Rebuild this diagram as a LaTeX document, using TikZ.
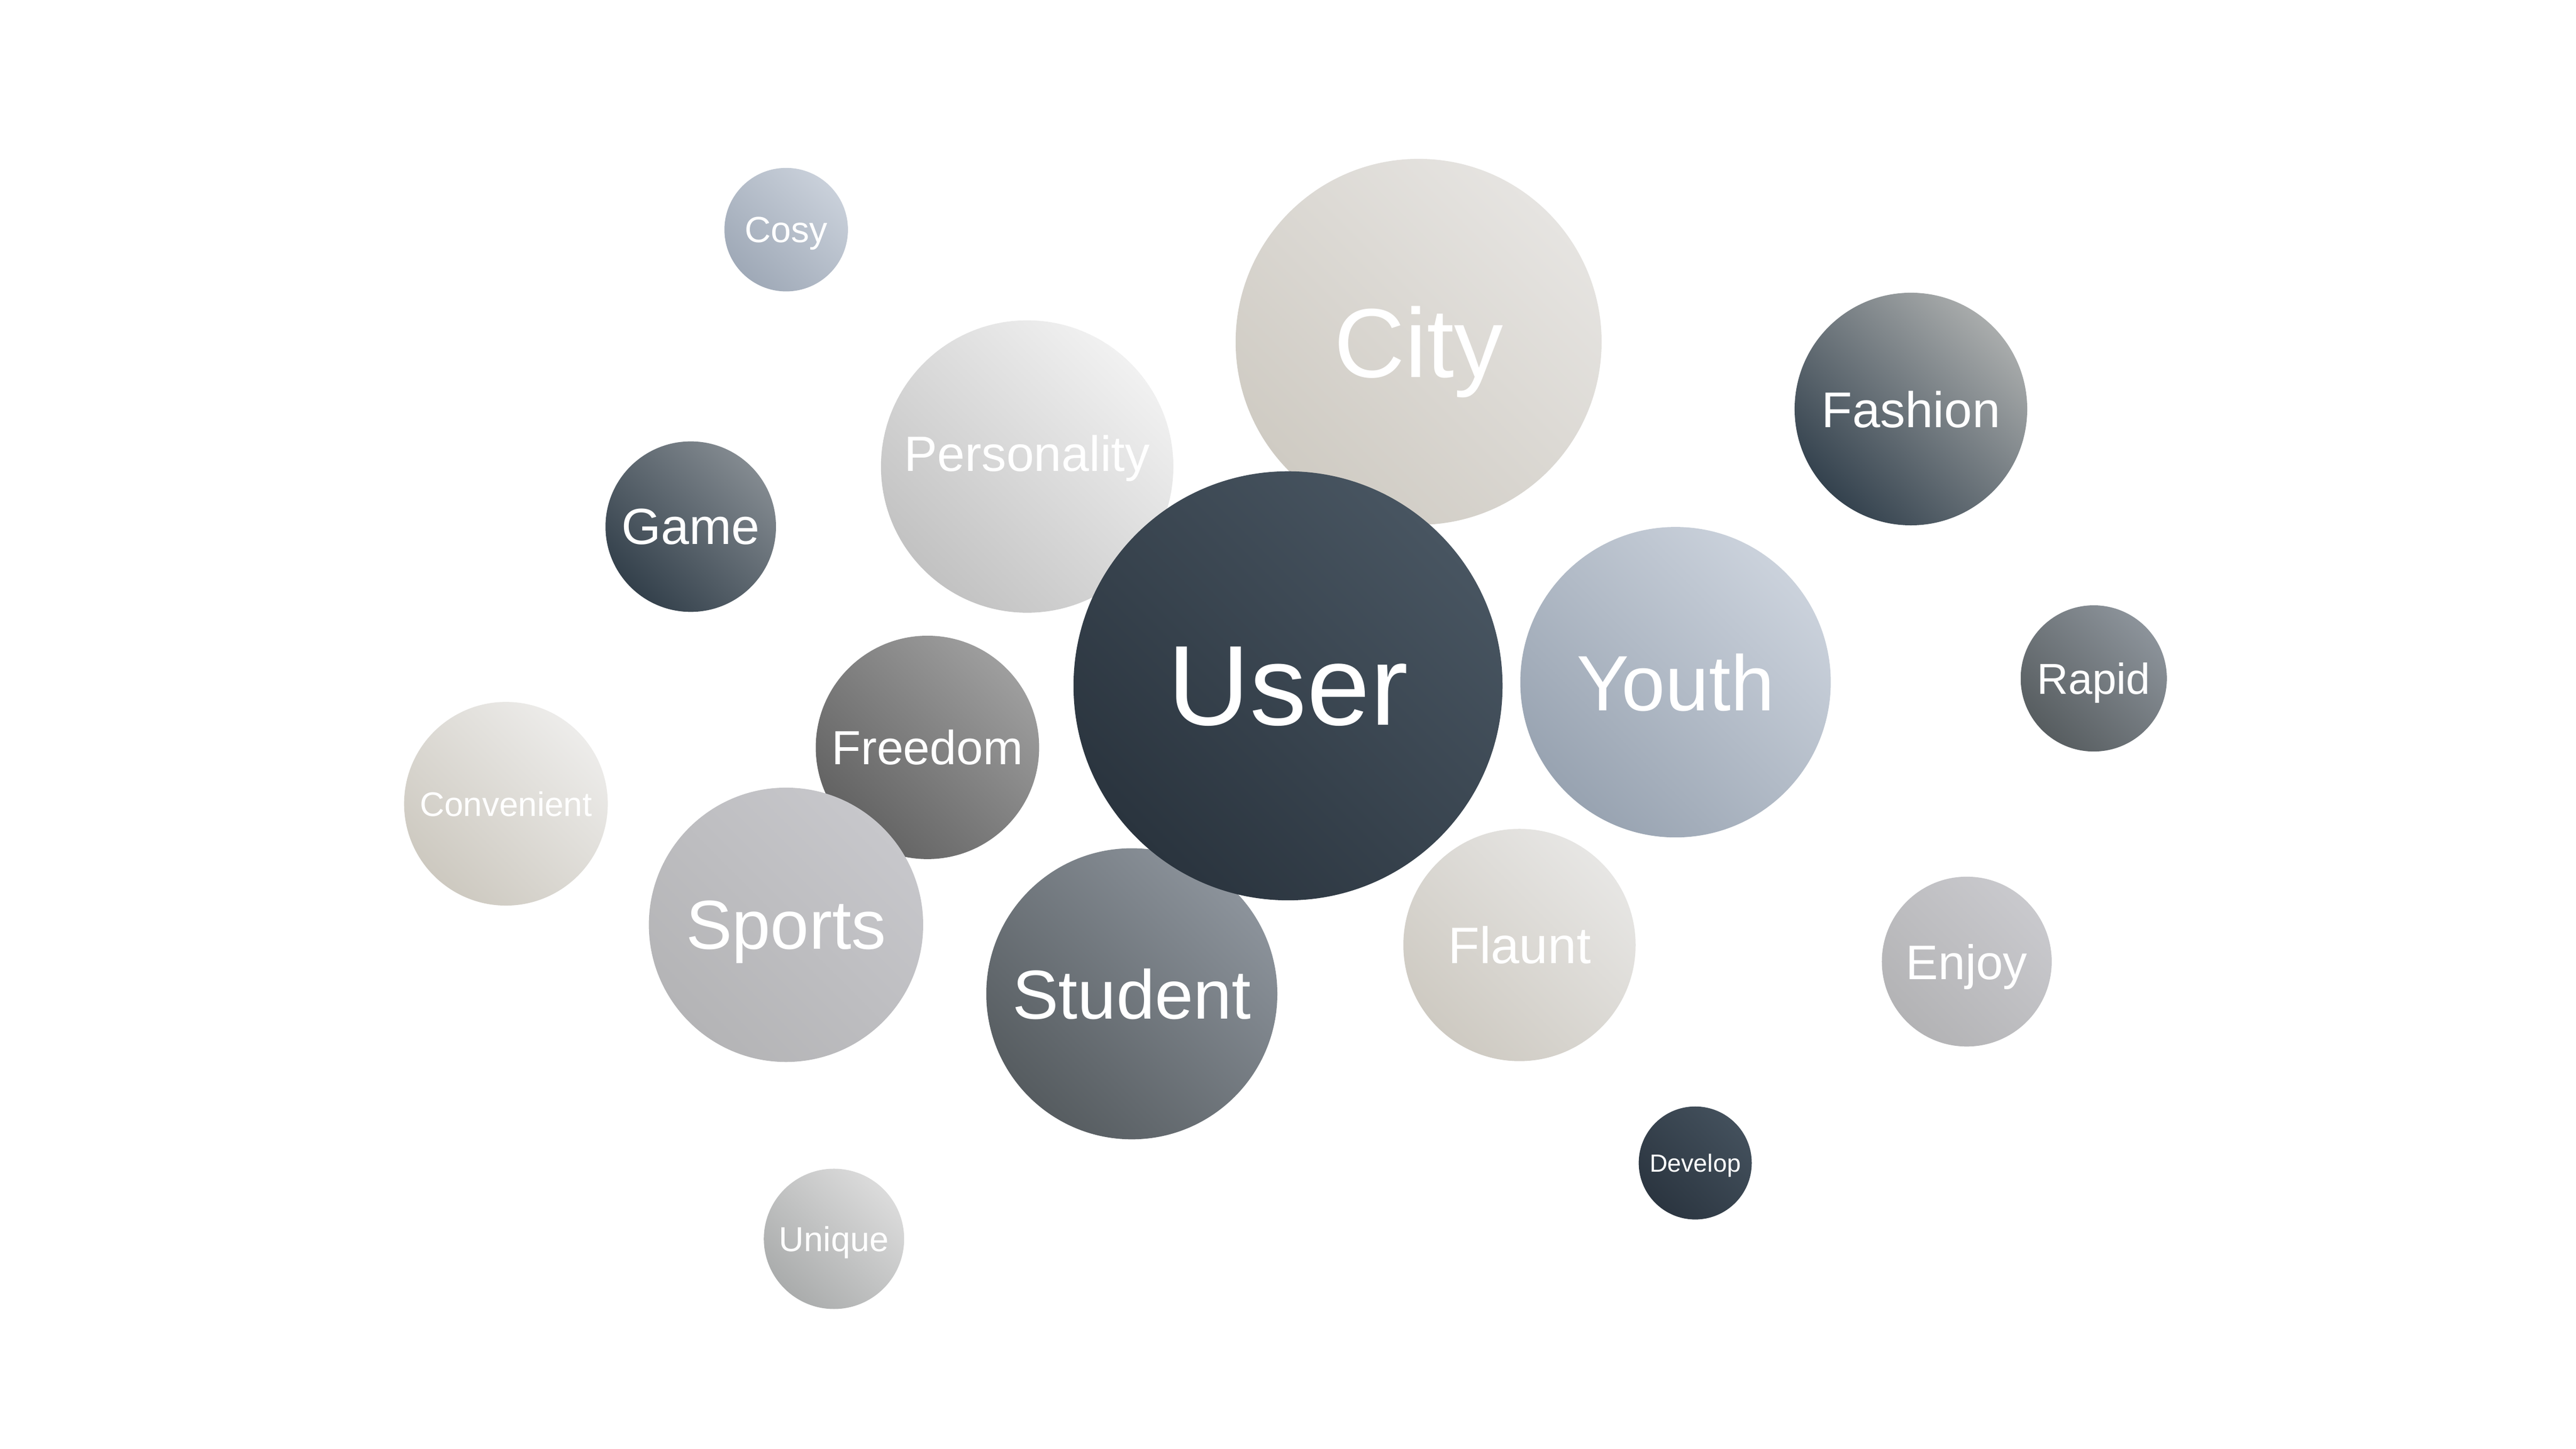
\documentclass[tikz,border=0pt]{standalone}
\usepackage{fontspec}
\setmainfont{Liberation Sans}
\usepackage{tikz}

\definecolor{cosyB}{HTML}{9FA9B7}
\definecolor{cosyT}{HTML}{C9D0DA}
\definecolor{cityB}{HTML}{CFCBC3}
\definecolor{cityT}{HTML}{E6E4E1}
\definecolor{persB}{HTML}{C2C2C2}
\definecolor{persT}{HTML}{F1F1F1}
\definecolor{fashB}{HTML}{34424E}
\definecolor{fashT}{HTML}{A9ACAC}
\definecolor{gameB}{HTML}{33404B}
\definecolor{gameT}{HTML}{838A90}
\definecolor{userB}{HTML}{2A343E}
\definecolor{userT}{HTML}{485561}
\definecolor{youthB}{HTML}{98A3B1}
\definecolor{youthT}{HTML}{CBD2DC}
\definecolor{rapidB}{HTML}{575D60}
\definecolor{rapidT}{HTML}{8C939A}
\definecolor{freeB}{HTML}{616161}
\definecolor{freeT}{HTML}{9E9E9E}
\definecolor{convB}{HTML}{CDC9C0}
\definecolor{convT}{HTML}{EDECEA}
\definecolor{sportB}{HTML}{B4B4B6}
\definecolor{sportT}{HTML}{C7C7CB}
\definecolor{studB}{HTML}{565C60}
\definecolor{studT}{HTML}{8C939B}
\definecolor{flauB}{HTML}{CECAC2}
\definecolor{flauT}{HTML}{E7E6E4}
\definecolor{enjB}{HTML}{B3B3B5}
\definecolor{enjT}{HTML}{C9C9CD}
\definecolor{devB}{HTML}{2B3540}
\definecolor{devT}{HTML}{43505C}
\definecolor{uniqB}{HTML}{AAACAC}
\definecolor{uniqT}{HTML}{DBDBDB}

% [extra]{name}{x}{y}{radius}{lower left}{upper right}{font size}{text}
\newcommand{\bub}[9][]{%
  \node[bubble, minimum size=#5*0.2mm, bottom color=#6, top color=#7,
        shading angle=-45, font=\fontsize{#8}{#8}\selectfont, #1]
        (#2) at (#3,#4) {#9};}

\begin{document}
\begin{tikzpicture}[x=0.1mm,y=-0.1mm]
\tikzstyle{every node}+=[inner sep=0pt]
\tikzstyle{bubble}=[circle, draw=none, text=white, text depth=0pt]
\useasboundingbox (0,0) rectangle (1568.2,882.1);
\bub{cosy}{478.6}{139.8}{37.6}{cosyB}{cosyT}{6.3pt}{Cosy}
\bub{city}{863.6}{208.1}{111.4}{cityB}{cityT}{17pt}{City}
\bub[text depth=1.6mm]{personality}{625.3}{284}{89}{persB}{persT}{8.6pt}{Personality}
\bub{fashion}{1163.3}{249}{70.8}{fashB}{fashT}{8.7pt}{Fashion}
\bub{game}{420.5}{320.6}{51.9}{gameB}{gameT}{8.8pt}{Game}
\bub{freedom}{564.6}{455}{68}{freeB}{freeT}{8.3pt}{Freedom}
\bub{sports}{478.5}{563}{83.5}{sportB}{sportT}{12pt}{Sports}
\bub{student}{689}{605}{88.6}{studB}{studT}{12pt}{Student}
\bub{user}{784.1}{417.5}{130.6}{userB}{userT}{19.7pt}{User}
\bub{youth}{1020}{415.3}{94.5}{youthB}{youthT}{13.6pt}{Youth}
\bub{rapid}{1274.6}{413}{44.5}{rapidB}{rapidT}{7.5pt}{Rapid}
\bub{convenient}{308}{489.3}{62}{convB}{convT}{5.9pt}{Convenient}
\bub{flaunt}{925}{575.3}{70.7}{flauB}{flauT}{8.9pt}{Flaunt}
\bub{enjoy}{1197.3}{585.4}{51.7}{enjB}{enjT}{8.4pt}{Enjoy}
\bub{develop}{1032}{708}{34.4}{devB}{devT}{4.3pt}{Develop}
\bub{unique}{507.7}{754.2}{42.7}{uniqB}{uniqT}{6pt}{Unique}
\end{tikzpicture}
\end{document}
